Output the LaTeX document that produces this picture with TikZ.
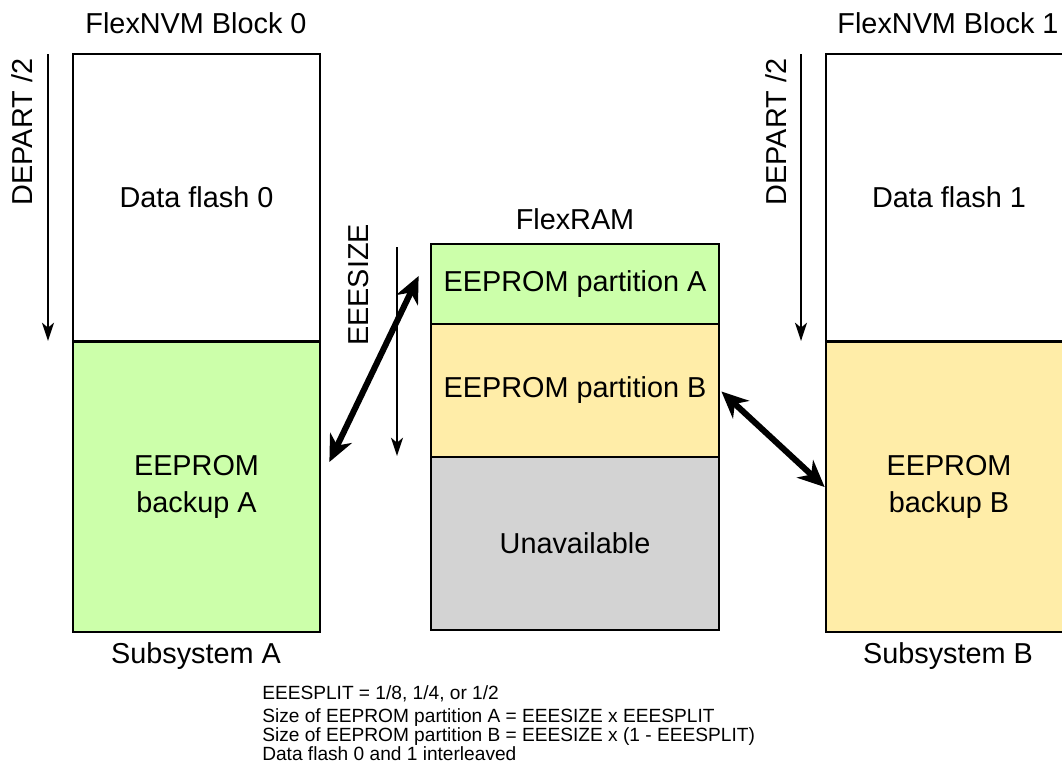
\documentclass[tikz,border=0pt]{standalone}
\usepackage{fontspec}
\setmainfont{Liberation Sans}
\usepackage{tikz}
\usetikzlibrary{arrows.meta}
\definecolor{flashgreen}{HTML}{CCFFAA}
\definecolor{flashyellow}{HTML}{FFEDA8}
\definecolor{flashgray}{HTML}{D3D3D3}
\tikzset{
  every picture/.style={line join=miter, >=Stealth},
  big/.style={font=\fontsize{20.5}{26.5}\selectfont},
  small/.style={font=\fontsize{13.6}{16}\selectfont},
  cell/.style={draw, line width=1.9pt, inner sep=0pt, align=center, big},
  thin arrow/.style={line width=1.3pt, -{Stealth[length=13pt,width=8.5pt,inset=3.5pt]}},
  fat arrow/.style={line width=4.3pt, {Stealth[length=19pt,width=17pt,inset=6pt]}-{Stealth[length=19pt,width=17pt,inset=6pt]}},
}

\begin{document}
\begin{tikzpicture}[x=0.025cm,y=-0.025cm]
\useasboundingbox (0,0) rectangle (1062,770);
% subsystem A
\node[cell,minimum width=6.175cm,minimum height=7.175cm] (flash0) at (196.5,197.5) {Data flash 0};
\node[cell,fill=flashgreen,minimum width=6.175cm,minimum height=7.25cm] (backupA) at (196.5,487) {EEPROM\\backup A};
\node[big] (block0) at (196,23) {FlexNVM Block 0};
\node[big] (subA) at (196,656) {Subsystem A};
\coordinate (d0top) at (48,54);
\coordinate (d0bot) at (48,341);
\draw[thin arrow] (d0top) -- (d0bot);
\node[big,rotate=90] (depart0) at (22,132) {DEPART /2};
% FlexRAM
\node[cell,fill=flashgreen,minimum width=7.2cm,minimum height=2cm] (partA) at (575,284) {EEPROM partition A};
\node[cell,fill=flashyellow,minimum width=7.2cm,minimum height=3.325cm] (partB) at (575,390.5) {EEPROM partition B};
\node[cell,fill=flashgray,minimum width=7.2cm,minimum height=4.325cm] (unav) at (575,543.5) {Unavailable};
\node[big] (flexram) at (575,219) {FlexRAM};
\coordinate (sizetop) at (397,247);
\coordinate (sizebot) at (397,456);
\draw[thin arrow] (sizetop) -- (sizebot);
\node[big,rotate=90] (eeesize) at (359,285) {EEESIZE};
% subsystem B
\node[cell,minimum width=6.15cm,minimum height=7.175cm] (flash1) at (949,197.5) {Data flash 1};
\node[cell,fill=flashyellow,minimum width=6.15cm,minimum height=7.25cm] (backupB) at (949,487) {EEPROM\\backup B};
\node[big] (block1) at (948,23) {FlexNVM Block 1};
\node[big] (subB) at (948,656) {Subsystem B};
\coordinate (d1top) at (801,54);
\coordinate (d1bot) at (801,341);
\draw[thin arrow] (d1top) -- (d1bot);
\node[big,rotate=90] (depart1) at (776,132) {DEPART /2};
% backup links
\coordinate (linkA) at ([shift={(-11,-8)}]partA.west);
\coordinate (linkAb) at ([shift={(8,-25)}]backupA.east);
\draw[fat arrow] (linkA) -- (linkAb);
\draw[fat arrow,shorten <=1pt] (partB.east) -- (backupB.west);
% notes
\node[small,anchor=base west,inner sep=0pt] (note1) at (262,699) {EEESPLIT = 1/8, 1/4, or 1/2};
\node[small,anchor=base west,inner sep=0pt] (note2) at (262,722) {Size of EEPROM partition A = EEESIZE x EEESPLIT};
\node[small,anchor=base west,inner sep=0pt] (note3) at (262,741) {Size of EEPROM partition B = EEESIZE x (1 - EEESPLIT)};
\node[small,anchor=base west,inner sep=0pt] (note4) at (262,760) {Data flash 0 and 1 interleaved};
\end{tikzpicture}
\end{document}
